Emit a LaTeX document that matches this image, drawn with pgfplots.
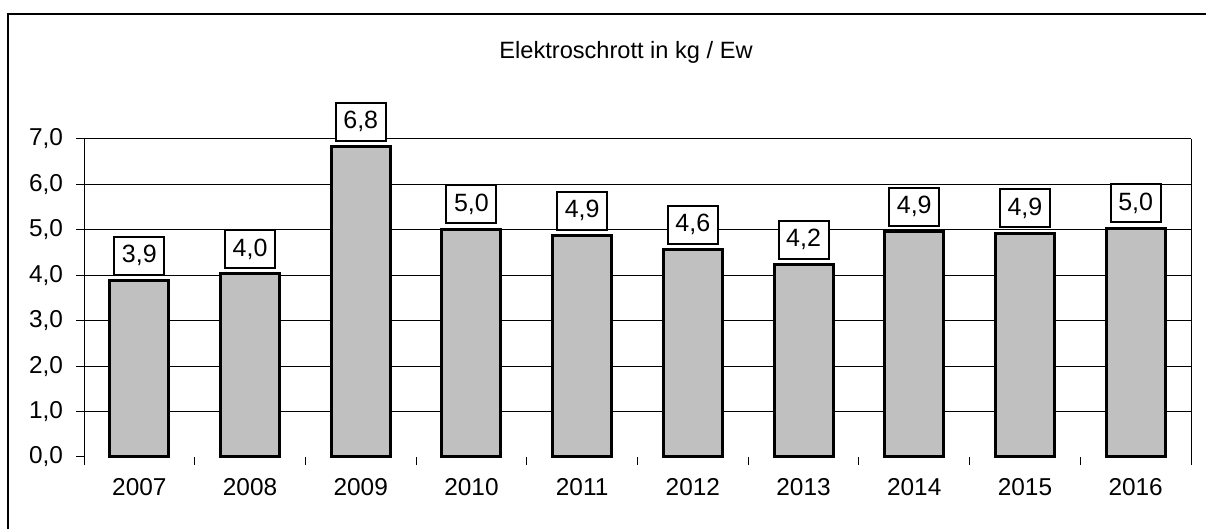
\documentclass[border=0pt]{standalone}
\usepackage{pgfplots}
\pgfplotsset{compat=1.18}
\usepackage{pgfplotstable}
\usepackage{fontspec}
\setmainfont{Liberation Sans}

\definecolor{bargray}{RGB}{192,192,192}

% Elektroschrott in kg je Einwohner
\pgfplotstableread{
idx val  lbl
0   3.88 3,9
1   4.03 4,0
2   6.83 6,8
3   5.01 5,0
4   4.87 4,9
5   4.56 4,6
6   4.23 4,2
7   4.96 4,9
8   4.93 4,9
9   5.04 5,0
}\ewdata

\begin{document}
\begin{tikzpicture}
\path[use as bounding box] (0pt,0pt) rectangle (603pt,264.5pt);
\draw[line width=0.6pt] (4pt,0pt) -- (4pt,257.5pt) -- (603pt,257.5pt);
\node[font=\fontsize{11.8}{14}\selectfont] at (313pt,238.5pt) {Elektroschrott in kg / Ew};
\begin{axis}[
    at={(42pt,36pt)}, anchor=south west,
    scale only axis,
    width=553.5pt, height=159pt,
    xmin=-0.5, xmax=9.5,
    ymin=0, ymax=7,
    ybar, bar width=29.5pt,
    clip=false,
    separate axis lines,
    x axis line style={draw=none},
    y axis line style={line width=0.5pt},
    tick align=outside,
    major tick length=4pt,
    tick style={black, line width=0.5pt},
    xtick pos=bottom, ytick pos=left,
    ytick={0,1,...,7},
    extra y ticks={1,2,...,7},
    extra y tick labels={},
    extra y tick style={grid=major, major tick length=0pt},
    major grid style={black, line width=0.5pt},
    xtick={-0.5,0.5,...,9.5},
    xticklabels={},
    extra x ticks={0,1,...,9},
    extra x tick labels={2007,2008,2009,2010,2011,2012,2013,2014,2015,2016},
    extra x tick style={major tick length=0pt},
    tick label style={font=\fontsize{12.2}{14}\selectfont},
    x tick label style={yshift=-7pt},
    y tick label style={xshift=-3pt, /pgf/number format/.cd, fixed, fixed zerofill, precision=1, use comma, assume math mode=true},
    point meta=explicit symbolic,
    nodes near coords={\pgfplotspointmeta},
    every node near coord/.append style={draw=black, line width=1pt, fill=white,
        inner sep=0pt, minimum width=25pt, minimum height=19pt, anchor=south, yshift=2.5pt,
        font=\fontsize{12.5}{14}\selectfont},
]
\addplot[fill=bargray, draw=black, line width=1.5pt] table[x=idx, y=val, meta=lbl] {\ewdata};
\end{axis}
\end{tikzpicture}
\end{document}
